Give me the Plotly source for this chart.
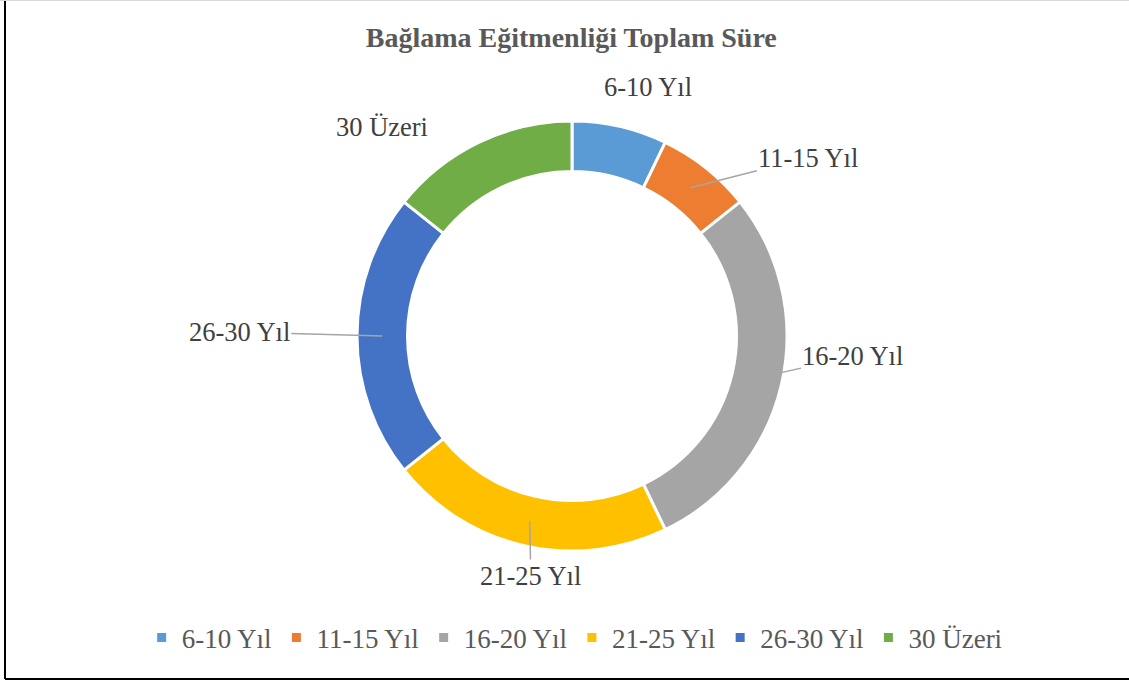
import math
import plotly.graph_objects as go

categories = ["6-10 Yıl", "11-15 Yıl", "16-20 Yıl", "21-25 Yıl", "26-30 Yıl", "30 Üzeri"]
values = [1, 1, 4, 3, 3, 2]
colors = ["#5B9BD5", "#ED7D31", "#A5A5A5", "#FFC000", "#4472C4", "#70AD47"]
title_text = "Bağlama Eğitmenliği Toplam Süre"

# label placement (pixel offsets of each data label from its slice's ring midpoint) and leader-line flags
label_offsets = [(34, -64), (118, -30), (96, -22), (1, 55), (-143, -4), (-108, -38)]
leader_lines = [False, True, True, True, True, False]

W, H = 1129, 682
cx, cy, R = 572, 336, 215
hole = 0.765

fig = go.Figure(go.Pie(
    labels=categories,
    values=values,
    marker=dict(colors=colors, line=dict(color="white", width=3)),
    hole=hole,
    sort=False,
    direction="clockwise",
    rotation=0,
    textinfo="none",
    domain=dict(x=[(cx - R) / W, (cx + R) / W], y=[(H - cy - R) / H, (H - cy + R) / H]),
    hoverinfo="label+value+percent",
))

# data labels anchored at the middle of each slice (angle derived from the values)
total = sum(values)
r_mid = R * (1 + hole) / 2
cum = 0
annotations = []
for cat, v, (dx, dy), lead in zip(categories, values, label_offsets, leader_lines):
    theta = 2 * math.pi * (cum + v / 2) / total
    cum += v
    px = cx + r_mid * math.sin(theta)
    py = cy - r_mid * math.cos(theta)
    annotations.append(dict(
        x=px / W, y=(H - py) / H, xref="paper", yref="paper",
        text=cat, showarrow=True, ax=dx, ay=dy, axref="pixel", ayref="pixel",
        arrowhead=0, arrowwidth=1.5,
        arrowcolor="#A5A5A5" if lead else "rgba(0,0,0,0)",
        standoff=0, startstandoff=0,
        font=dict(family="Liberation Serif", size=26.5, color="#404040"),
    ))

fig.update_layout(
    width=W, height=H,
    margin=dict(l=0, r=0, t=0, b=0),
    paper_bgcolor="white",
    plot_bgcolor="white",
    title=dict(text="<b>" + title_text + "</b>", x=0.506, xanchor="center", y=1 - 37 / H, yanchor="middle",
               font=dict(family="Liberation Serif", size=28, color="#595959")),
    showlegend=True,
    legend=dict(orientation="h", x=0.509, xanchor="center", y=(H - 638) / H, yanchor="middle",
                font=dict(family="Liberation Serif", size=27, color="#595959"),
                bgcolor="rgba(0,0,0,0)"),
    annotations=annotations,
    shapes=[
        dict(type="line", xref="paper", yref="paper", x0=5 / W, x1=5 / W, y0=3 / H, y1=1,
             line=dict(color="black", width=2)),
        dict(type="line", xref="paper", yref="paper", x0=5 / W, x1=1, y0=3 / H, y1=3 / H,
             line=dict(color="black", width=2)),
        dict(type="line", xref="paper", yref="paper", x0=0, x1=1, y0=1 - 0.5 / H, y1=1 - 0.5 / H,
             line=dict(color="#D9D9D9", width=1)),
    ],
)

fig.write_html("out.html", config={"displayModeBar": False},
               post_script="document.body.style.margin='0';")
